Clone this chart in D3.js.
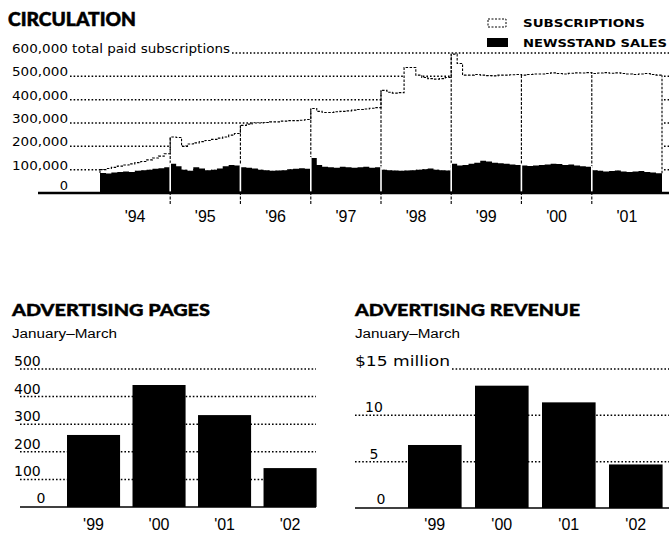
<!DOCTYPE html>
<html><head><meta charset="utf-8">
<script src="https://cdn.jsdelivr.net/npm/d3@7"></script>
<style>body{margin:0;background:#fff} svg{display:block}</style>
</head><body>
<svg id="c" width="669" height="533"></svg>
<script>
// ---------- DATA ----------
const years = [1994, 1995, 1996, 1997, 1998, 1999, 2000, 2001];
const yearLabels = ["'94", "'95", "'96", "'97", "'98", "'99", "'00", "'01"];
// monthly values, thousands of copies (Jan 1994 .. Dec 2001)
const newsstand = [
  86, 84, 88, 90, 92, 90, 95, 98, 100, 104, 106, 110,
  125, 115, 100, 95, 110, 105, 98, 100, 105, 115, 120, 118,
  110, 108, 105, 100, 98, 95, 96, 98, 102, 104, 106, 104,
  150, 120, 112, 110, 108, 112, 110, 108, 110, 112, 108, 110,
  100, 98, 96, 95, 96, 98, 100, 102, 105, 100, 98, 96,
  125, 118, 120, 125, 130, 138, 135, 130, 128, 125, 122, 120,
  118, 116, 118, 120, 122, 125, 124, 120, 122, 118, 115, 112,
  98, 95, 92, 94, 96, 92, 90, 92, 94, 90, 88, 85
];
const subscriptions = [
  14, 21, 22, 25, 28, 35, 35, 37, 42, 46, 52, 58,
  115, 123, 100, 115, 105, 115, 127, 130, 130, 125, 128, 137,
  180, 187, 195, 200, 204, 210, 209, 210, 208, 206, 206, 211,
  212, 230, 233, 235, 240, 238, 242, 247, 248, 248, 255, 256,
  340, 334, 332, 335, 442, 440, 405, 393, 385, 388, 392, 399,
  470, 437, 385, 380, 378, 367, 368, 372, 377, 380, 385, 388,
  387, 392, 392, 390, 390, 390, 388, 390, 391, 397, 399, 404,
  414, 419, 424, 419, 419, 420, 420, 416, 416, 422, 420, 420
];
const circTicks = [0, 100, 200, 300, 400, 500, 600];
const circTickLabels = ["0", "100,000", "200,000", "300,000", "400,000", "500,000", "600,000 total paid subscriptions"];
const legendLabels = ["SUBSCRIPTIONS", "NEWSSTAND SALES"];

const adCategories = ["'99", "'00", "'01", "'02"];
const adPages = [261, 442, 333, 141];
const adPagesTicks = [0, 100, 200, 300, 400, 500];
const adPagesTickLabels = ["0", "100", "200", "300", "400", "500"];
const adRevenue = [6.8, 13.2, 11.4, 4.7];
const adRevenueTicks = [0, 5, 10, 15];
const adRevenueTickLabels = ["0", "5", "10", "$15 million"];

// ---------- DRAW ----------
const svg = d3.select("#c");
const TITLE = "Lato, 'DejaVu Sans', sans-serif";
const SANS = "'Liberation Sans', Arial, sans-serif";
const DV = "'DejaVu Sans', sans-serif";
const DOTS = "1.6,2";

// ===== CIRCULATION =====
const rows = newsstand.map((v, i) => ({date: new Date(1994, i, 1), newsstand: v, subscriptions: subscriptions[i]}));
const last = rows[rows.length - 1];
rows.push({date: new Date(2002, 0, 1), newsstand: last.newsstand, subscriptions: last.subscriptions});

const x = d3.scaleTime().domain([new Date(1994, 0, 1), new Date(2002, 0, 1)]).range([100, 662]);
const y = d3.scaleLinear().domain([0, 600]).range([193, 53]);

svg.append("text").attr("x", 8).attr("y", 26).text("CIRCULATION")
  .attr("font-family", TITLE).attr("font-weight", 900).attr("font-size", 18)
  .attr("stroke", "#000").attr("stroke-width", 0.5)
  .attr("textLength", 128).attr("lengthAdjust", "spacingAndGlyphs");

// gridlines + labels
const gC = svg.append("g");
circTicks.forEach((t, i) => {
  if (t === 0) return;
  const lab = gC.append("text").attr("x", 12).attr("y", y(t)).text(circTickLabels[i])
    .attr("font-family", DV).attr("font-size", 13);
  if (i === circTicks.length - 1) lab.attr("textLength", 218).attr("lengthAdjust", "spacingAndGlyphs");
  else lab.attr("textLength", 56).attr("lengthAdjust", "spacingAndGlyphs");
  const w = +lab.attr("textLength");
  gC.append("line").attr("x1", 12 + w + 2).attr("x2", 669).attr("y1", y(t)).attr("y2", y(t))
    .attr("stroke", "#000").attr("stroke-width", 1.5).attr("stroke-dasharray", DOTS);
});
gC.append("text").attr("x", 64).attr("y", y(0) - 3).attr("text-anchor", "middle").text(circTickLabels[0])
  .attr("font-family", DV).attr("font-size", 13);

const stack = d3.stack().keys(["newsstand", "subscriptions"]);
const series = stack(rows);
const area = d3.area().curve(d3.curveStepAfter)
  .x(d => x(d.data.date)).y0(d => y(d[0])).y1(d => y(d[1]));

// subscriptions (white, dashed outline)
svg.append("path").datum(series[1]).attr("d", area).attr("fill", "#fff");
// newsstand (black)
svg.append("path").datum(series[0]).attr("d", area).attr("fill", "#000");

// dashed outline of total
const totalLine = d3.line().curve(d3.curveStepAfter)
  .x(d => x(d.data.date)).y(d => y(d[1]));
svg.append("path").datum(series[1]).attr("d", totalLine)
  .attr("fill", "none").attr("stroke", "#000").attr("stroke-width", 1.1).attr("stroke-dasharray", "2.5,1.5");
// left & right edges of subscription band
[0, rows.length - 1].forEach(k => {
  svg.append("line").attr("x1", x(rows[k].date)).attr("x2", x(rows[k].date))
    .attr("y1", y(series[0][k][1])).attr("y2", y(series[1][k][1]))
    .attr("stroke", "#000").attr("stroke-width", 1.1).attr("stroke-dasharray", "2.5,1.5");
});

// year separators
years.slice(1).forEach(yr => {
  const k = rows.findIndex(r => r.date.getFullYear() === yr && r.date.getMonth() === 0);
  const xb = x(rows[k].date);
  const topT = Math.max(series[1][k][1], series[1][k - 1][1]);
  const topN = Math.max(series[0][k][1], series[0][k - 1][1]);
  svg.append("line").attr("x1", xb).attr("x2", xb).attr("y1", y(0) + 11).attr("y2", y(topT))
    .attr("stroke", "#000").attr("stroke-width", 1.1).attr("stroke-dasharray", "3,1.5");
  svg.append("line").attr("x1", xb).attr("x2", xb).attr("y1", y(0) - 1.5).attr("y2", y(topN) - 1)
    .attr("stroke", "#fff").attr("stroke-width", 1.6);
});

// baseline
svg.append("line").attr("x1", 38).attr("x2", 669).attr("y1", y(0)).attr("y2", y(0))
  .attr("stroke", "#000").attr("stroke-width", 2.6);

// year labels
years.forEach((yr, i) => {
  const xm = (x(new Date(yr, 0, 1)) + x(new Date(yr + 1, 0, 1))) / 2;
  svg.append("text").attr("x", xm).attr("y", 222).attr("text-anchor", "middle").text(yearLabels[i])
    .attr("font-family", SANS).attr("font-size", 16);
});

// legend
const lg = svg.append("g");
lg.append("rect").attr("x", 488).attr("y", 19).attr("width", 18).attr("height", 8)
  .attr("fill", "#fff").attr("stroke", "#000").attr("stroke-width", 1).attr("stroke-dasharray", "2,1.5");
lg.append("rect").attr("x", 487).attr("y", 38).attr("width", 21).attr("height", 9).attr("fill", "#000");
lg.append("text").attr("x", 523).attr("y", 27).text(legendLabels[0])
  .attr("font-family", DV).attr("font-size", 10.5).attr("font-weight", 600)
  .attr("textLength", 122).attr("lengthAdjust", "spacingAndGlyphs");
lg.append("text").attr("x", 523).attr("y", 47).text(legendLabels[1])
  .attr("font-family", DV).attr("font-size", 10.5).attr("font-weight", 600)
  .attr("textLength", 144).attr("lengthAdjust", "spacingAndGlyphs");

// ===== BAR CHARTS =====
function barChart(o) {
  const g = svg.append("g");
  g.append("text").attr("x", o.tx).attr("y", 316).text(o.title)
    .attr("font-family", TITLE).attr("font-weight", 900).attr("font-size", 16)
    .attr("stroke", "#000").attr("stroke-width", 0.4)
    .attr("textLength", o.titleLen).attr("lengthAdjust", "spacingAndGlyphs");
  g.append("text").attr("x", o.tx).attr("y", 338).text("January\u2013March")
    .attr("font-family", SANS).attr("font-size", 12.5)
    .attr("textLength", 105).attr("lengthAdjust", "spacingAndGlyphs");

  const yS = d3.scaleLinear().domain(o.domain).range(o.yRange);
  const xS = d3.scaleBand().domain(adCategories).range(o.xRange).paddingInner(o.pad).paddingOuter(0);

  o.ticks.forEach((t, i) => {
    if (t === 0) return;
    const top = i === o.ticks.length - 1;
    const lab = g.append("text").attr("y", yS(t) - 3).text(o.tickLabels[i])
      .attr("font-family", DV).attr("font-size", 14);
    if (o.labelMode === "left" || top) lab.attr("x", o.labelX);
    else lab.attr("x", o.labelMid).attr("text-anchor", "middle");
    let x1 = o.gx0;
    if (o.labelMode !== "left" && top) {
      lab.attr("textLength", 95).attr("lengthAdjust", "spacingAndGlyphs");
      x1 = o.labelX + 97;
    }
    g.insert("line", "text").attr("x1", x1).attr("x2", o.gx1).attr("y1", yS(t)).attr("y2", yS(t))
      .attr("stroke", "#000").attr("stroke-width", 1.5).attr("stroke-dasharray", DOTS);
  });
  g.append("text").attr("x", o.zeroX).attr("y", yS(0) - 4).attr("text-anchor", "middle").text(o.tickLabels[0])
    .attr("font-family", DV).attr("font-size", 14);

  g.selectAll("rect.bar").data(o.values).join("rect").attr("class", "bar")
    .attr("x", (d, i) => xS(adCategories[i])).attr("width", xS.bandwidth())
    .attr("y", d => yS(d)).attr("height", d => yS(0) - yS(d)).attr("fill", "#000");

  g.append("line").attr("x1", o.gx0).attr("x2", o.gx1).attr("y1", yS(0)).attr("y2", yS(0))
    .attr("stroke", "#000").attr("stroke-width", 1.6);

  adCategories.forEach(c => {
    g.append("text").attr("x", xS(c) + xS.bandwidth() / 2).attr("y", 530).attr("text-anchor", "middle").text(c)
      .attr("font-family", SANS).attr("font-size", 16);
  });
}

barChart({
  title: "ADVERTISING PAGES", tx: 12, titleLen: 198,
  domain: [0, 500], yRange: [507, 369], xRange: [67, 316.6], pad: 0.19,
  ticks: adPagesTicks, tickLabels: adPagesTickLabels, values: adPages,
  labelMode: "left", labelX: 14, zeroX: 41, gx0: 20, gx1: 316
});
barChart({
  title: "ADVERTISING REVENUE", tx: 355, titleLen: 225,
  domain: [0, 15], yRange: [508, 369], xRange: [408, 662.6], pad: 0.2,
  ticks: adRevenueTicks, tickLabels: adRevenueTickLabels, values: adRevenue,
  labelMode: "mid", labelX: 355, labelMid: 374, zeroX: 381, gx0: 355, gx1: 669
});
</script>
</body></html>
